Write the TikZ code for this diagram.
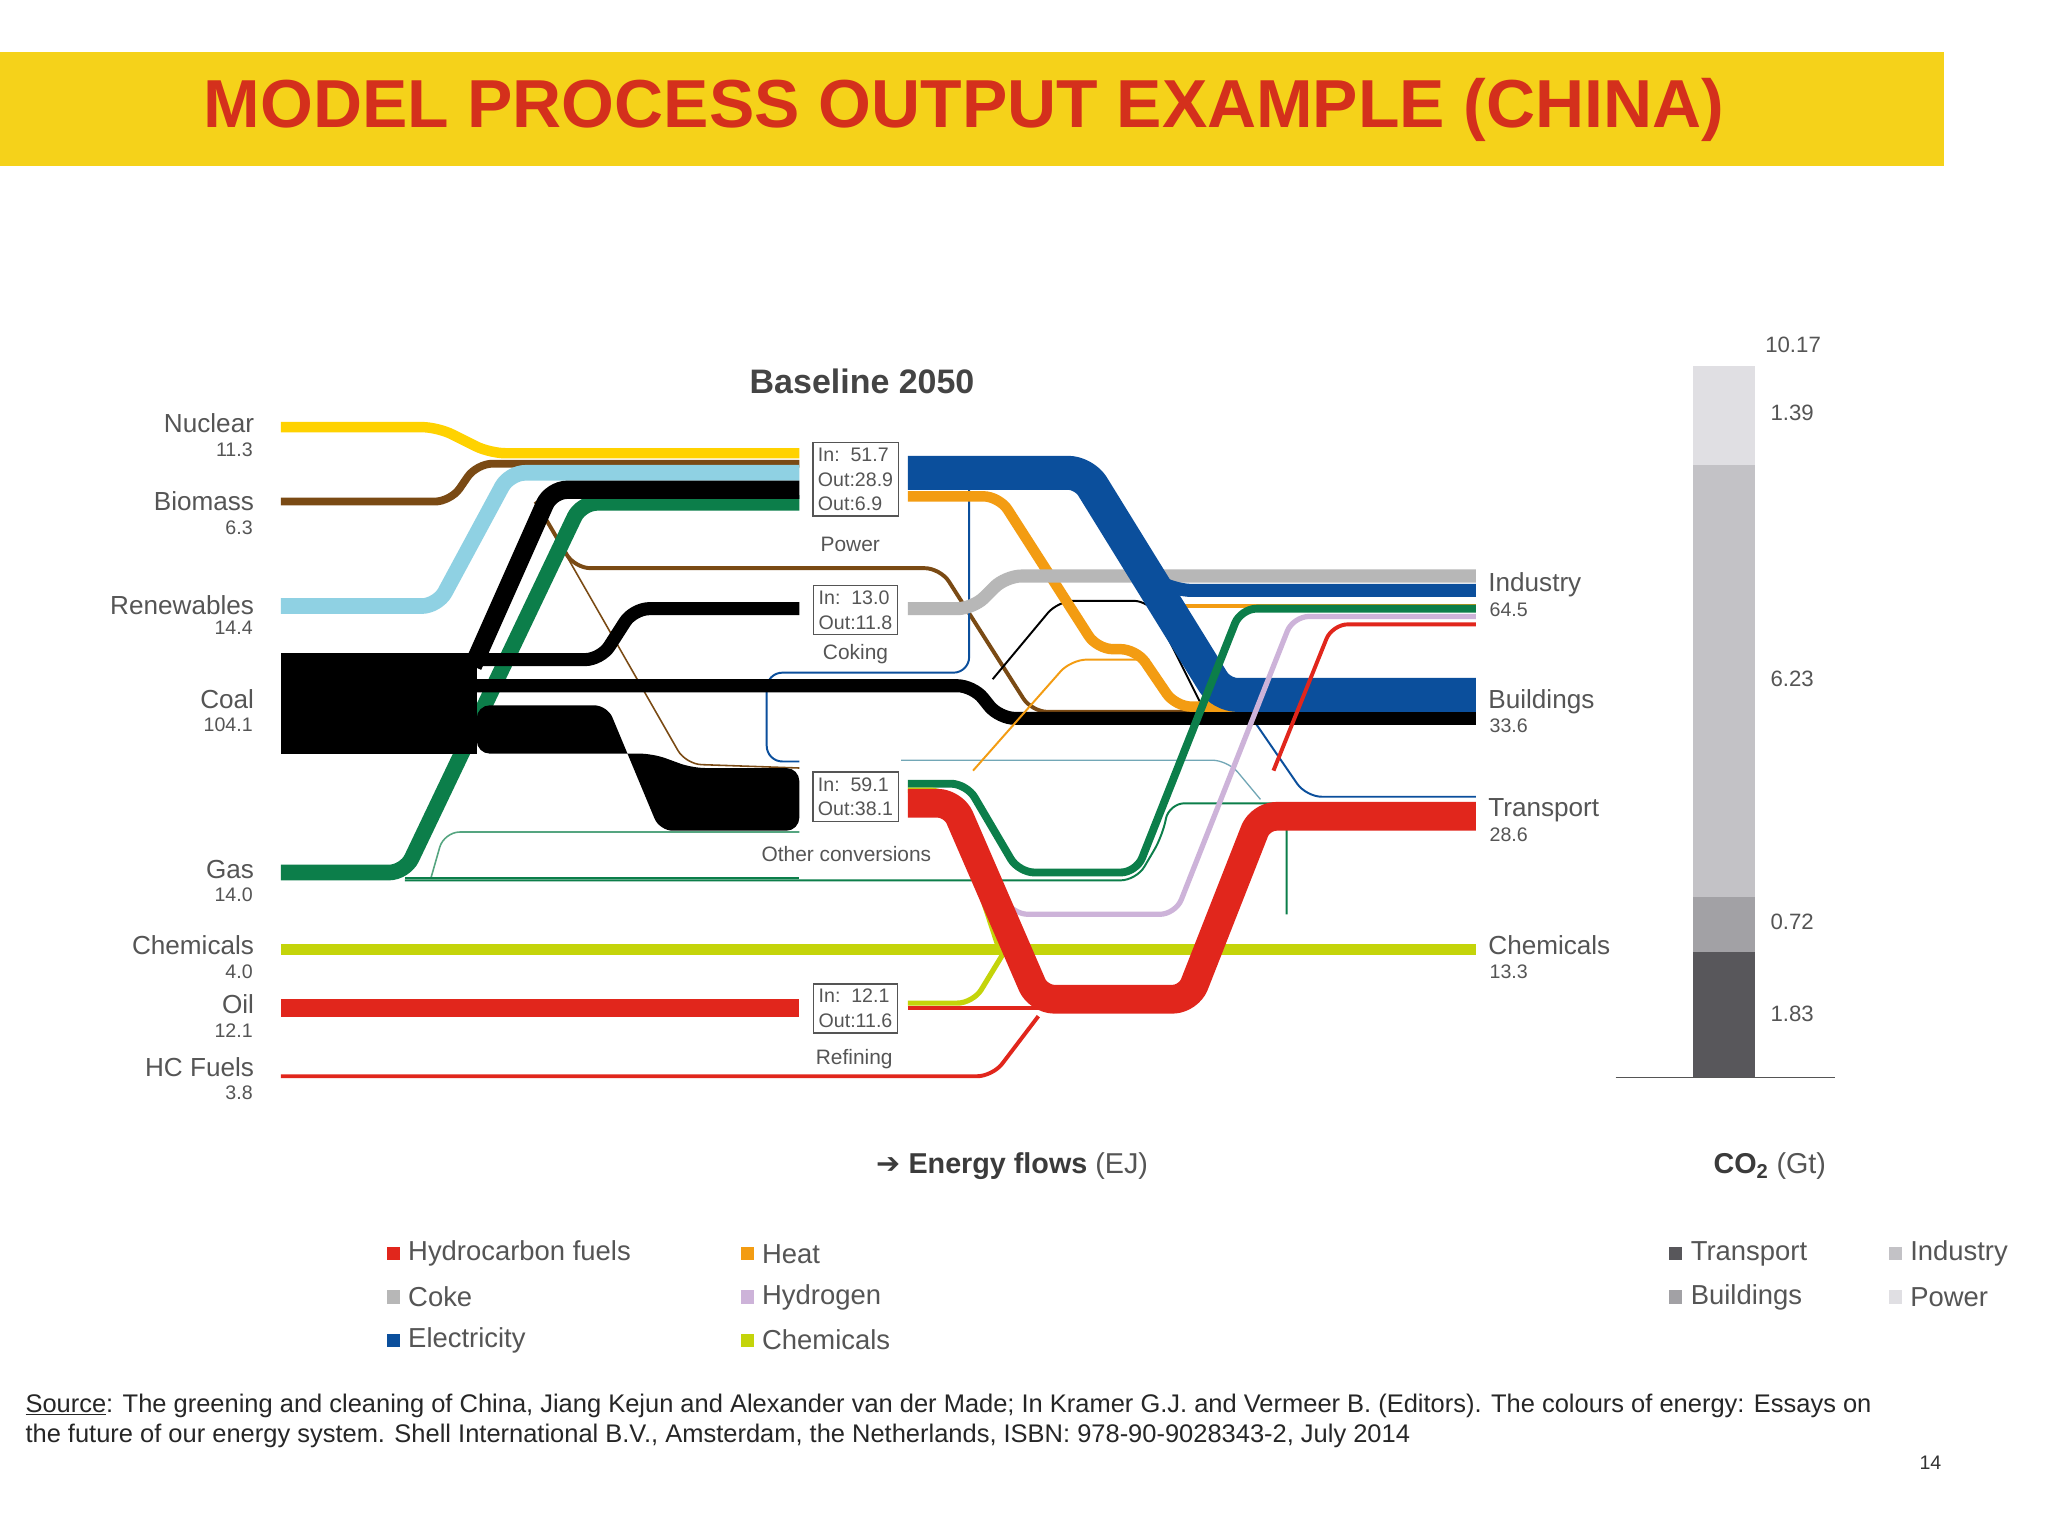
\documentclass[tikz,border=0pt]{standalone}
\usepackage{fontspec}
\setmainfont{Liberation Sans}
\newfontfamily\djv{DejaVu Sans}
\usepackage{tikz}
\definecolor{banner}{HTML}{F5D21A}
\definecolor{ttl}{HTML}{D4301C}
\definecolor{cnuc}{HTML}{FFD200}
\definecolor{cbio}{HTML}{7A4A14}
\definecolor{cren}{HTML}{8FD1E3}
\definecolor{cgas}{HTML}{0C7E4A}
\definecolor{cchem}{HTML}{C4D40A}
\definecolor{cred}{HTML}{E1261C}
\definecolor{cblue}{HTML}{0B4F9C}
\definecolor{corg}{HTML}{F39C12}
\definecolor{ccoke}{HTML}{B7B7B7}
\definecolor{chyd}{HTML}{CDB3D9}
\definecolor{lab}{HTML}{555555}
\definecolor{b1}{HTML}{E0DFE3}
\definecolor{b2}{HTML}{C3C2C6}
\definecolor{b3}{HTML}{A2A1A5}
\definecolor{b4}{HTML}{58575B}
\tikzset{fl/.style={line join=round,rounded corners=12pt},
 lbl/.style={anchor=east,text=lab,font=\fontsize{20}{22}\selectfont},
 val/.style={anchor=east,text=lab,font=\fontsize{15}{17}\selectfont},
 rlbl/.style={anchor=west,text=lab,font=\fontsize{20}{22}\selectfont},
 rval/.style={anchor=west,text=lab,font=\fontsize{15}{17}\selectfont},
 pbox/.style={draw=lab,fill=white,line width=1.2pt,inner sep=4pt,align=left,text=lab,font=\fontsize{15}{19}\selectfont},
 plab/.style={text=lab,font=\fontsize{16}{18}\selectfont},
 leg/.style={text=lab,anchor=west,font=\fontsize{21}{23}\selectfont},
 co/.style={text=lab,anchor=west,font=\fontsize{17}{19}\selectfont}}
\begin{document}
\begin{tikzpicture}[x=1pt,y=-1pt]
\useasboundingbox (0,0) rectangle (1568,1176);
\fill[white] (0,0) rectangle (1568,1176);
\fill[banner] (0,40) rectangle (1488,127);
\node[text=ttl,font=\bfseries\fontsize{52}{56}\selectfont] (title) at (738,84) {MODEL PROCESS OUTPUT EXAMPLE (CHINA)};
\node[text=lab!80!black,font=\bfseries\fontsize{26}{28}\selectfont] (base) at (660,292) {Baseline 2050};
% left labels
\node[lbl] (n1) at (198,324) {Nuclear}; \node[val] at (197,344) {11.3};
\node[lbl] (n2) at (198,384) {Biomass}; \node[val] at (197,404) {6.3};
\node[lbl] (n3) at (198,463) {Renewables}; \node[val] at (197,481) {14.4};
\node[lbl] (n4) at (198,535) {Coal}; \node[val] at (197,555) {104.1};
\node[lbl] (n5) at (198,666) {Gas}; \node[val] at (197,685) {14.0};
\node[lbl] (n6) at (198,724) {Chemicals}; \node[val] at (197,744) {4.0};
\node[lbl] (n7) at (198,769) {Oil}; \node[val] at (197,789) {12.1};
\node[lbl] (n8) at (198,817) {HC Fuels}; \node[val] at (197,837) {3.8};
% right labels
\node[rlbl] (o1) at (1136,448) {Industry}; \node[rval] at (1137,467) {64.5};
\node[rlbl] (o2) at (1136,537) {Buildings}; \node[rval] at (1137,556) {33.6};
\node[rlbl] (o3) at (1136,620) {Transport}; \node[rval] at (1137,639) {28.6};
\node[rlbl] (o4) at (1136,724) {Chemicals}; \node[rval] at (1137,744) {13.3};
% ---- thin flows
\draw[fl,cgas!70!white,line width=1.2pt] (330,672) -- (340,637) -- (612,637);
\draw[fl,cgas,line width=1.5pt] (310,674) -- (870,674) -- (890,640) -- (895,615) -- (985,615) -- (985,700);
\draw[fl,cbio,line width=1.2pt] (410,384) -- (525,585) -- (612,588);
\draw[fl,cbio,line width=3pt] (410,384) -- (440,435) -- (720,435) -- (790,545) -- (1130,545);
\draw[fl,cblue,line width=1.5pt] (742,372) -- (742,515) -- (587,515) -- (587,583) -- (612,583);
\draw[fl,cren!80!black,line width=1pt] (690,582) -- (940,582) -- (965,612);
\draw[fl,cblue,line width=1.5pt] (890,450) -- (1000,610) -- (1130,610);
% nuclear, biomass, renewables
\draw[fl,cnuc,line width=8pt] (215,327) -- (335,327) -- (375,347) -- (612,347);
\draw[fl,cbio,line width=6pt] (215,384) -- (345,384) -- (365,355) -- (612,355);
\draw[fl,cren,line width=12pt] (215,464) -- (335,464) -- (390,362) -- (612,362);
% gas
\draw[fl,cgas,line width=12pt] (215,668) -- (310,668) -- (445,385) -- (612,385);
% coal
\fill[black] (215,500) rectangle (365,577);
\draw[fl,black,line width=14pt] (362,510) -- (422,375) -- (612,375);
\draw[fl,black,line width=10pt] (365,505) -- (460,505) -- (485,466) -- (612,466);
\draw[fl,black,line width=10pt] (365,525) -- (745,525) -- (765,550) -- (1130,550);
\fill[black,rounded corners=10pt] (365,540) -- (465,540) -- (505,636) -- (612,636) -- (612,588) -- (530,588) -- (500,577) -- (365,577) -- cycle;
\draw[fl,cgas,line width=1.5pt] (310,672) -- (612,672);
% chemicals, oil, hc fuels
\draw[fl,cchem,line width=8pt] (215,727) -- (1130,727);
\draw[fl,cred,line width=14pt] (215,772) -- (612,772);
\draw[fl,cred,line width=3pt] (215,824) -- (760,824) -- (795,778);
% power outputs
\draw[fl,corg,line width=1.5pt] (745,590) -- (820,505) -- (880,505);
\draw[fl,black,line width=1.5pt] (760,520) -- (810,460) -- (880,460) -- (920,540);
\draw[fl,corg,line width=8pt] (695,380) -- (765,380) -- (840,497) -- (870,497) -- (900,541) -- (1130,541);
\draw[fl,corg,line width=3pt] (880,464) -- (1130,464);
\draw[fl,ccoke,line width=10pt] (695,466) -- (745,466) -- (770,441) -- (1130,441);
\draw[fl,cblue,line width=26pt] (695,362) -- (830,362) -- (935,532) -- (1130,532);
\draw[fl,cblue,line width=10pt] (880,441) -- (900,452) -- (1130,452);
% other conversions outputs
\draw[fl,chyd,line width=4pt] (730,612) -- (775,700) -- (900,700) -- (990,472) -- (1130,472);
\draw[fl,cgas,line width=6pt] (695,600) -- (740,600) -- (780,668) -- (870,668) -- (950,466) -- (1130,466);
\draw[fl,cchem,line width=4pt] (695,605) -- (725,605) -- (765,727);
\draw[fl,cchem,line width=4pt] (695,768) -- (745,768) -- (770,727);
\draw[fl,cred,line width=3pt] (975,590) -- (1020,478) -- (1130,478);
\draw[fl,cred,line width=22pt] (695,615) -- (730,615) -- (795,765) -- (910,765) -- (965,625) -- (1130,625);
\draw[fl,cred,line width=3pt] (695,772) -- (800,772);
% process boxes
\node[pbox] (pw) at (655,367) {In:\ \ 51.7\\Out:28.9\\Out:6.9};
\node[plab] at (651,417) {Power};
\node[pbox] (ck) at (655,467) {In:\ \ 13.0\\Out:11.8};
\node[plab] at (655,501) {Coking};
\node[pbox] (oc) at (655,610) {In:\ \ 59.1\\Out:38.1};
\node[plab] at (648,654) {Other conversions};
\node[pbox] (rf) at (655,772) {In:\ \ 12.1\\Out:11.6};
\node[plab] at (654,811) {Refining};
% CO2 bar
\fill[b1] (1296,280) rectangle (1344,356);
\fill[b2] (1296,356) rectangle (1344,687);
\fill[b3] (1296,687) rectangle (1344,729);
\fill[b4] (1296,729) rectangle (1344,825);
\draw[lab,line width=1.2pt] (1237,825) -- (1405,825);
\node[co] at (1348,264) {10.17};
\node[co] at (1352,316) {1.39};
\node[co] at (1352,520) {6.23};
\node[co] at (1352,706) {0.72};
\node[co] at (1352,776) {1.83};
% axis captions
\node[text=lab,font=\fontsize{22}{24}\selectfont] (ef) at (775,893) {\textcolor{lab!70!black}{{\djv ➔} \bfseries Energy flows} (EJ)};
\node[text=lab,font=\fontsize{22}{24}\selectfont] (cg) at (1355,893) {\textcolor{lab!70!black}{\bfseries CO\textsubscript{2}} (Gt)};
% legend
\def\lsq#1#2#3#4{\fill[#3] (#1-5,#2-5) rectangle (#1+5,#2+5); \node[leg] at (#1+8,#2) {#4};}
\lsq{301}{960}{cred}{Hydrocarbon fuels}
\lsq{301}{993}{ccoke}{Coke}
\lsq{301}{1026}{cblue}{Electricity}
\lsq{572}{960}{corg}{Heat}
\lsq{572}{993}{chyd}{Hydrogen}
\lsq{572}{1026}{cchem}{Chemicals}
\lsq{1283}{960}{b4}{Transport}
\lsq{1283}{993}{b3}{Buildings}
\lsq{1451}{960}{b2}{Industry}
\lsq{1451}{993}{b1}{Power}
% source
\node[anchor=west,align=left,font=\fontsize{19.5}{23}\selectfont,text=black!85] (src) at (16,1088) {\underline{Source}: The greening and cleaning of China, Jiang Kejun and Alexander van der Made; In Kramer G.J. and Vermeer B. (Editors). The colours of energy: Essays on\\the future of our energy system. Shell International B.V., Amsterdam, the Netherlands, ISBN: 978-90-9028343-2, July 2014};
\node[font=\fontsize{15}{17}\selectfont,text=black!80] (pg) at (1478,1120) {14};
\end{tikzpicture}
\end{document}
